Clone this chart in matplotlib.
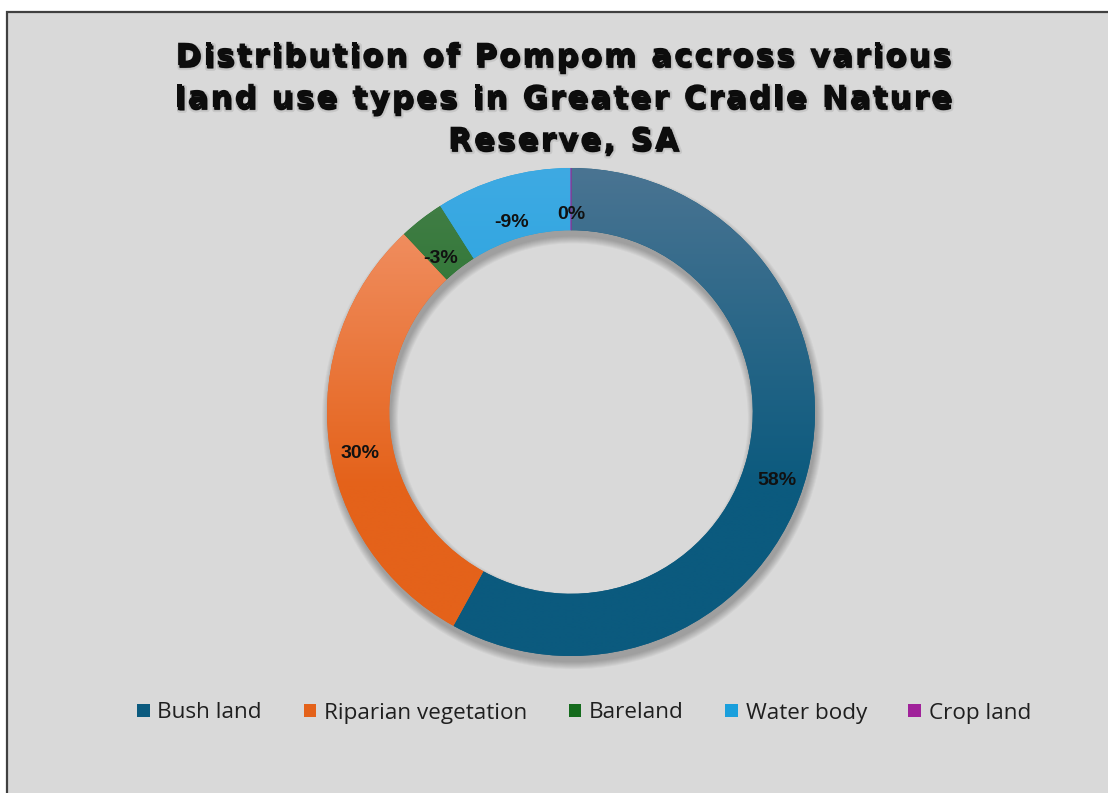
import numpy as np
import matplotlib
matplotlib.use("Agg")
import matplotlib.pyplot as plt
from matplotlib.patches import Rectangle, Wedge, Patch
from matplotlib.colors import to_rgb
from matplotlib.font_manager import FontProperties
import matplotlib.patheffects as pe

# ---- data ----
categories = ["Bush land", "Riparian vegetation", "Bareland", "Water body", "Crop land"]
values = [58, 30, -3, -9, 0]          # signed percentages as labelled
title_lines = ["Distribution of Pompom accross various",
               "land use types in Greater Cradle Nature",
               "Reserve, SA"]

# ---- styling ----
base_colors = ["#0b5a7e", "#e4621a", "#156b1d", "#1a9fdc", "#a0229a"]
top_colors = ["#4a7492", "#f39870", "#46804a", "#3eaae3", "#b04aa8"]
bg = "#d9d9d9"

W, H = 1108, 793
fig = plt.figure(figsize=(W / 100, H / 100), dpi=100)
fig.patch.set_facecolor("white")

# chart area with dark frame
fig.add_artist(Rectangle((7 / W, -0.05), 1.2, (1 - 12 / H) + 0.05,
                         transform=fig.transFigure, facecolor=bg,
                         edgecolor="#404040", lw=1.6, zorder=0))

# donut axes: centre (571, 412) px, outer radius 244 px
cx, cy, R = 571, 412, 244
half = 262
ax = fig.add_axes([(cx - half) / W, (H - cy - half) / H, 2 * half / W, 2 * half / H])
ax.axis("off")

ring = 0.255

sizes = [abs(v) for v in values]
wedges, _ = ax.pie(sizes, startangle=90, counterclock=False, radius=1,
                   colors=base_colors,
                   wedgeprops=dict(width=ring, edgecolor="none", linewidth=0))

# soft drop shadow under the ring
for d in np.linspace(0.0, 0.028, 8):
    ax.add_patch(Wedge((0.008, -0.026), 1 + d, 0, 360, width=ring + 2 * d,
                       facecolor="black", edgecolor="none", alpha=0.035, zorder=1))

# vertical gradient fill for each slice
ys = np.linspace(1, -1, 300)
t = np.clip((1 - ys) / 1.3, 0, 1)[:, None]
for w, c_top, c_base in zip(wedges, top_colors, base_colors):
    w.set_zorder(2)
    top = np.array(to_rgb(c_top))
    bot = np.array(to_rgb(c_base))
    grad = (top[None, :] * (1 - t) + bot[None, :] * t)[:, None, :]
    im = ax.imshow(grad, extent=[-1, 1, -1, 1], aspect="auto",
                   interpolation="bilinear", zorder=3)
    im.set_clip_path(w)
ax.set_xlim(-half / R, half / R)
ax.set_ylim(-half / R, half / R)
ax.set_aspect("equal")

# zero-size slice drawn as a thin line at the top
wedges[-1].set_edgecolor(base_colors[-1])
wedges[-1].set_linewidth(0.8)
wedges[-1].set_zorder(4)

# percentage labels in the middle of the ring
rmid = 1 - ring / 2
for w, v in zip(wedges, values):
    ang = np.deg2rad((w.theta1 + w.theta2) / 2)
    x, y = rmid * np.cos(ang), rmid * np.sin(ang) - 0.062
    ax.text(x, y, f"{v}%", ha="center", va="center", fontsize=14,
            fontweight="bold", family="Liberation Sans", color="#111111", zorder=6)

# title: letter-spaced bold lines with a soft shadow
renderer = fig.canvas.get_renderer()
tprop = FontProperties(family="DejaVu Sans", weight="bold", size=22)
tracking = 2.4           # extra px between characters
title_cx = 563
baselines = [65, 107, 149]
shadow = [pe.Stroke(offset=(1.2, -2.0), linewidth=3.5, foreground=(0, 0, 0, 0.08)),
          pe.Stroke(offset=(1.0, -1.8), linewidth=1.2, foreground=(0, 0, 0, 0.18)),
          pe.Normal()]


def text_w(s):
    return renderer.get_text_width_height_descent(s, tprop, ismath=False)[0]


bar_w = text_w("|")
for line, base_y in zip(title_lines, baselines):
    xs = [0.0] + [text_w(line[:i] + "|") - bar_w + i * tracking for i in range(1, len(line))]
    total = xs[-1] + text_w(line[-1])
    x0 = title_cx - total / 2
    for ch, xo in zip(line, xs):
        if ch == " ":
            continue
        fig.text((x0 + xo) / W, 1 - base_y / H, ch, ha="left", va="baseline",
                 fontproperties=tprop, color="#0d0d0d", path_effects=shadow)

# legend
handles = [Patch(facecolor=c, edgecolor="none") for c in base_colors]
fig.legend(handles, categories, loc="center", bbox_to_anchor=(584 / W, 1 - 713 / H),
           ncol=5, frameon=False, prop=dict(family="Open Sans", size=16.2),
           handlelength=0.55, handleheight=0.55, handletextpad=0.35,
           columnspacing=1.85, labelcolor="#1f1f1f")

fig.savefig("out.png", dpi=100, facecolor=fig.get_facecolor())
